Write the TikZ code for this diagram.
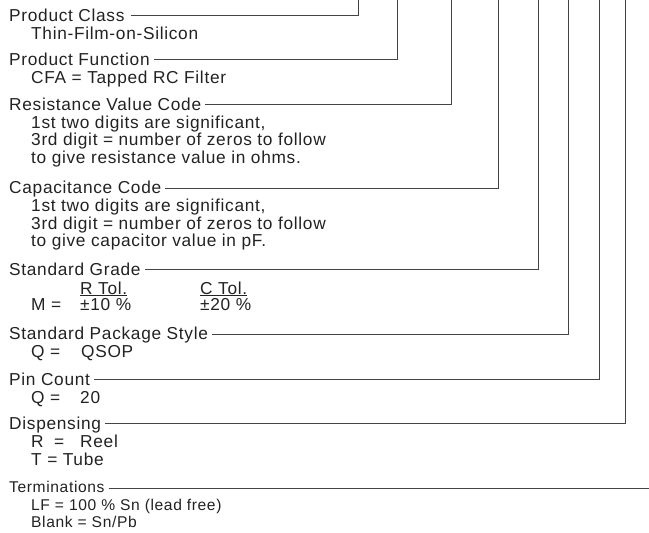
\documentclass[tikz,border=0pt]{standalone}
\usepackage{fontspec}
\setmainfont[LetterSpace=4]{Liberation Sans}
\usetikzlibrary{positioning, calc}
\definecolor{ctext}{HTML}{222222}
\definecolor{cline}{HTML}{444444}
\tikzset{
  every picture/.style={x=1pt, y=-1pt},
  title/.style={anchor=base west, inner sep=0pt, text=ctext, font=\fontsize{17.3}{20}\selectfont},
  entry/.style={title},
  stitle/.style={title, font=\fontsize{15.6}{18}\selectfont},
  sentry/.style={stitle},
  lead/.style={draw=cline, line width=0.9pt},
}

\begin{document}
\begin{tikzpicture}
  \useasboundingbox (0,0) rectangle (649,533);
  % upper ends of the leads
  \coordinate (e1) at (358,0);
  \coordinate (e2) at (397,0);
  \coordinate (e3) at (451,0);
  \coordinate (e4) at (498,0);
  \coordinate (e5) at (538,0);
  \coordinate (e6) at (568,0);
  \coordinate (e7) at (599,0);
  \coordinate (e8) at (625,0);
  \coordinate (e9) at (649,0);

  \node[title] (cls) at (9,21) {Product Class};
  \node[entry] (cls1) at (31,39) {Thin-Film-on-Silicon};

  \node[title] (fun) at (9,65) {Product Function};
  \node[entry] (fun1) at (31,83) {CFA = Tapped RC Filter};

  \node[title] (res) at (9,110) {Resistance Value Code};
  \node[entry] (res1) at (31,128) {1st two digits are significant,};
  \node[entry] (res2) at (31,145.5) {3rd digit = number of zeros to follow};
  \node[entry] (res3) at (31,163) {to give resistance value in ohms.};

  \node[title] (cap) at (9,193.5) {Capacitance Code};
  \node[entry] (cap1) at (31,211.5) {1st two digits are significant,};
  \node[entry] (cap2) at (31,229) {3rd digit = number of zeros to follow};
  \node[entry] (cap3) at (31,246.5) {to give capacitor value in pF.};

  \node[title] (grd) at (9,275) {Standard Grade};
  \node[entry] (rtol) at (80,294) {\underline{R Tol.}};
  \node[entry] (ctol) at (200,294) {\underline{C Tol.}};
  \node[entry] (grdm) at (31,310) {M =};
  \node[entry] (rval) at (80,310) {±10 \%};
  \node[entry] (cval) at (200,310) {±20 \%};

  \node[title] (pkg) at (9,339) {Standard Package Style};
  \node[entry] (pkgq) at (31,357) {Q =};
  \node[entry] (pkgv) at (81,357) {QSOP};

  \node[title] (pin) at (9,385) {Pin Count};
  \node[entry] (pinq) at (31,403) {Q =};
  \node[entry] (pinv) at (80,403) {20};

  \node[title] (dsp) at (9,429) {Dispensing};
  \node[entry] (dspr) at (31,447) {R};
  \node[entry] (dspe) at (54,447) {=};
  \node[entry] (dspv) at (80,447) {Reel};
  \node[entry] (dspt) at (31,465.5) {T = Tube};

  \node[stitle] (trm) at (9,492.5) {Terminations};
  \node[sentry] (trm1) at (31,510) {LF = 100 \% Sn (lead free)};
  \node[sentry] (trm2) at (31,527) {Blank = Sn/Pb};

  \draw[lead] ([shift={(6,-5.5)}]cls.base east) -| (e1);
  \draw[lead] ([shift={(4,-5.5)}]fun.base east) -| (e2);
  \draw[lead] ([shift={(4,-5.5)}]res.base east) -| (e3);
  \draw[lead] ([shift={(4,-5)}]cap.base east) -| (e4);
  \draw[lead] ([shift={(4,-5.5)}]grd.base east) -| (e5);
  \draw[lead] ([shift={(4,-5)}]pkg.base east) -| (e6);
  \draw[lead] ([shift={(4,-5.5)}]pin.base east) -| (e7);
  \draw[lead] ([shift={(4,-5.5)}]dsp.base east) -| (e8);
  \draw[lead] ([shift={(4,-4.5)}]trm.base east) -- (e9 |- 488,488);
\end{tikzpicture}
\end{document}
